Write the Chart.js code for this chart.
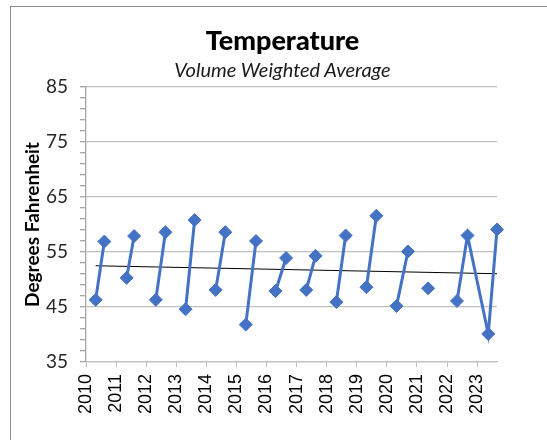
<!DOCTYPE html>
<html lang="en">
<head>
  <meta charset="UTF-8">
  <title>Temperature</title>
  <script src="https://cdn.jsdelivr.net/npm/chart.js"></script>
  <style>
    body { margin: 0; background: white; overflow: hidden; }
    #frame { position: absolute; left: 10px; top: 6px; width: 600px; height: 500px; border-left: 1.5px solid #8c8c8c; border-top: 1.5px solid #8c8c8c; }
    #chart { position: absolute; left: 0; top: 0; }
    .heading { position: absolute; left: 0; width: 565px; text-align: center; font-family: Lato, "Open Sans", sans-serif; color: #000; white-space: nowrap; }
    #title { top: 25px; font-size: 27px; font-weight: 900; line-height: 30px; }
    #subtitle { top: 57px; font-size: 20px; font-style: italic; line-height: 24px; color: #1a1a1a; }
  </style>
</head>
<body>
<div id="frame"></div>
<canvas id="chart" width="547" height="440"></canvas>
<div class="heading" id="title">Temperature</div>
<div class="heading" id="subtitle">Volume Weighted Average</div>

<script>
// decimal year of each reading, null = break in the line
const dates = [
  2010.32, 2010.61, null,
  2011.35, 2011.60, null,
  2012.32, 2012.64, null,
  2013.31, 2013.61, null,
  2014.31, 2014.63, null,
  2015.31, 2015.65, null,
  2016.30, 2016.65, null,
  2017.32, 2017.63, null,
  2018.32, 2018.63, null,
  2019.32, 2019.65, null,
  2020.32, 2020.70, null,
  2021.37, null,
  2022.33, 2022.68, 2023.37, 2023.66
];
const temps = [
  46.3, 56.9, null,
  50.3, 57.9, null,
  46.3, 58.6, null,
  44.6, 60.8, null,
  48.1, 58.6, null,
  41.8, 57.0, null,
  47.9, 53.9, null,
  48.1, 54.3, null,
  45.9, 58.0, null,
  48.6, 61.6, null,
  45.2, 55.1, null,
  48.4, null,
  46.1, 58.0, 40.1, 59.1
];
const trendDates = [2010.32, 2023.66];
const trendTemps = [52.5, 51.05];
const yearTicks = [2010, 2011, 2012, 2013, 2014, 2015, 2016, 2017, 2018, 2019, 2020, 2021, 2022, 2023];
const yMajor = [35, 45, 55, 65, 75, 85];

const points = dates.map((d, i) => ({ x: d, y: temps[i] }));
const trend = trendDates.map((d, i) => ({ x: d, y: trendTemps[i] }));
const gridGray = '#c0c0c0';

new Chart(document.getElementById('chart'), {
  type: 'line',
  data: {
    datasets: [
      { data: points, borderColor: '#4472C4', backgroundColor: '#4472C4', borderWidth: 3, pointStyle: 'rectRot',
        pointRadius: 6.5, pointBorderWidth: 1, pointBorderColor: '#4472C4', pointBackgroundColor: '#4472C4',
        spanGaps: false, clip: false, tension: 0 },
      { data: trend, borderColor: '#000', borderWidth: 1, pointRadius: 0, clip: false }
    ]
  },
  options: {
    responsive: false,
    animation: false,
    devicePixelRatio: 1,
    layout: { padding: { top: 87, left: 0, right: 50, bottom: 0 } },
    plugins: { legend: { display: false }, tooltip: { enabled: false } },
    scales: {
      x: {
        type: 'linear', min: yearTicks[0], max: 2023.66,
        afterFit: s => { s.height = 78; },
        afterBuildTicks: s => { s.ticks = yearTicks.map(v => ({ value: v })); },
        border: { color: gridGray, width: 1.3 },
        grid: { drawOnChartArea: false, tickLength: 5, color: gridGray },
        ticks: { autoSkip: false, minRotation: 90, maxRotation: 90, padding: 7, color: '#000',
          font: { family: '"Liberation Sans", Arial, sans-serif', size: 18 }, callback: v => String(v) }
      },
      y: {
        min: 35, max: 85,
        afterFit: s => { s.width = 86; },
        border: { color: '#a6a6a6', width: 1.3 },
        grid: { tickLength: 6, tickColor: '#a6a6a6', lineWidth: 1.3,
          color: c => (c.tick && yMajor.includes(c.tick.value)) ? gridGray : 'rgba(0,0,0,0)' },
        ticks: { stepSize: 2, autoSkip: false, maxTicksLimit: 100, padding: 12, color: '#262626',
          font: { family: 'Lato, "Open Sans", sans-serif', size: 19 },
          callback: v => yMajor.includes(v) ? String(v) : '' },
        title: { display: true, text: 'Degrees Fahrenheit', color: '#000', padding: { top: 21, bottom: 0 },
          font: { family: 'Lato, "Open Sans", sans-serif', size: 19, weight: 'bold' } }
      }
    }
  }
});
</script>
</body>
</html>
